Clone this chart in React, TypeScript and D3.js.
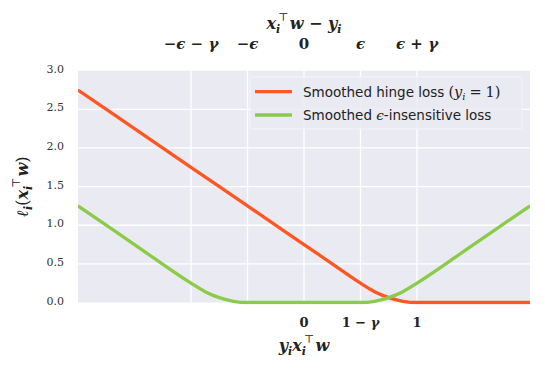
import React from "react";
import * as d3 from "d3";

// values (x in units of y_i x_i^T w, gamma = eps = 0.5)
const hingeX = [-2, -1.5, -1, -0.5, 0, 0.25, 0.5, 0.625, 0.75, 0.875, 1, 1.5, 2];
const hingeY = [2.75, 2.25, 1.75, 1.25, 0.75, 0.5, 0.25, 0.14, 0.0625, 0.016, 0, 0, 0];

const epsX = [-2, -1.5, -1, -0.875, -0.75, -0.625, -0.5, 0, 0.5, 0.625, 0.75, 0.875, 1, 1.5, 2];
const epsY = [1.25, 0.75, 0.25, 0.14, 0.0625, 0.016, 0, 0, 0, 0.016, 0.0625, 0.14, 0.25, 0.75, 1.25];

const yTicks = [0, 0.5, 1, 1.5, 2, 2.5, 3];
const topTickPos = [-1, -0.5, 0, 0.5, 1];
// each label split into [text, italic?] pieces
const topTickLabels: [string, boolean][][] = [
  [["−", false], ["ϵ", true], [" − ", false], ["γ", true]],
  [["−", false], ["ϵ", true]],
  [["0", false]],
  [["ϵ", true]],
  [["ϵ", true], [" + ", false], ["γ", true]],
];
const bottomTickPos = [0, 0.5, 1];
const bottomTickLabels: [string, boolean][][] = [
  [["0", false]],
  [["1 − ", false], ["γ", true]],
  [["1", false]],
];

const ORANGE = "#FF5722";
const GREEN = "#8BCB4A";
const BG = "#EAEAF2";
const SERIF = "'DejaVu Serif', serif";
const SANS = "'DejaVu Sans', sans-serif";

const W = 545;
const H = 374;
const left = 78;
const right = 530;
const top = 70.7;
const bottom = 302.5;

const Pieces = ({ parts }: { parts: [string, boolean][] }) => (
  <>
    {parts.map(([s, it], i) => (
      <tspan key={i} fontStyle={it ? "italic" : "normal"} style={{ whiteSpace: "pre" }}>
        {s}
      </tspan>
    ))}
  </>
);

export default function App() {
  const x = d3.scaleLinear().domain([-2, 2]).range([left, right]);
  const y = d3.scaleLinear().domain([0, 3]).range([bottom, top]);

  const line = d3
    .line<[number, number]>()
    .x((d) => x(d[0]))
    .y((d) => y(d[1]))
    .curve(d3.curveMonotoneX);

  const hinge = hingeX.map((v, i) => [v, hingeY[i]] as [number, number]);
  const eps = epsX.map((v, i) => [v, epsY[i]] as [number, number]);

  const math = { fontFamily: SERIF, fontStyle: "italic", fontWeight: "bold" } as const;
  const up = { fontStyle: "normal", fontWeight: "normal" } as const;

  return (
    <svg
      width={W}
      height={H}
      style={{ position: "absolute", left: 0, top: 0, background: "white" }}
    >
      <defs>
        <clipPath id="plot">
          <rect x={left} y={top - 2} width={right - left} height={bottom - top + 4} />
        </clipPath>
      </defs>
      <rect x={left} y={top} width={right - left} height={bottom - top} fill={BG} />

      {yTicks.slice(1, -1).map((t) => (
        <line key={"gy" + t} x1={left} x2={right} y1={y(t)} y2={y(t)} stroke="white" strokeWidth={1.3} />
      ))}
      {topTickPos.map((t) => (
        <line key={"gx" + t} x1={x(t)} x2={x(t)} y1={top} y2={bottom} stroke="white" strokeWidth={1.3} />
      ))}

      <g clipPath="url(#plot)">
        <path d={line(hinge) ?? ""} fill="none" stroke={ORANGE} strokeWidth={3.3} />
        <path d={line(eps) ?? ""} fill="none" stroke={GREEN} strokeWidth={3.3} />
      </g>

      {/* y axis */}
      {yTicks.map((t) => (
        <text key={"yl" + t} x={64} y={y(t) - 1} textAnchor="end" dominantBaseline="middle"
          fontFamily={SERIF} fontSize={11} fill="#333">
          {d3.format(".1f")(t)}
        </text>
      ))}
      <text transform={`translate(28,${(top + bottom) / 2}) rotate(-90)`} textAnchor="middle"
        {...math} fontSize={16} fill="#222">
        ℓ<tspan fontSize={11} dy={4}>i</tspan>
        <tspan dy={-4} {...up}>(</tspan>
        <tspan>x</tspan>
        <tspan fontSize={11} dy={4}>i</tspan>
        <tspan {...up} fontSize={11} dx={-2} dy={-12}>⊤</tspan>
        <tspan dy={8} dx={1}>w</tspan>
        <tspan {...up}>)</tspan>
      </text>

      {/* top axis */}
      {topTickPos.map((t, i) => (
        <text key={"tl" + t} x={x(t)} y={49} textAnchor="middle" {...math} fontSize={15} fill="#222">
          <Pieces parts={topTickLabels[i]} />
        </text>
      ))}
      <text x={x(0)} y={29} textAnchor="middle" {...math} fontSize={16} fill="#222">
        x<tspan fontSize={11} dy={4}>i</tspan>
        <tspan {...up} fontSize={11} dx={-2} dy={-12}>⊤</tspan>
        <tspan dy={8} dx={1}>w</tspan>
        <tspan fontStyle="normal" style={{ whiteSpace: "pre" }}> − </tspan>
        <tspan>y</tspan>
        <tspan fontSize={11} dy={4}>i</tspan>
      </text>

      {/* bottom axis */}
      {bottomTickPos.map((t, i) => (
        <text key={"bl" + t} x={x(t)} y={327} textAnchor="middle" {...math} fontSize={13} fill="#222">
          <Pieces parts={bottomTickLabels[i]} />
        </text>
      ))}
      <text x={x(0)} y={351} textAnchor="middle" {...math} fontSize={16} fill="#222">
        y<tspan fontSize={11} dy={4}>i</tspan>
        <tspan dy={-4}>x</tspan>
        <tspan fontSize={11} dy={4}>i</tspan>
        <tspan {...up} fontSize={11} dx={-2} dy={-12}>⊤</tspan>
        <tspan dy={8} dx={1}>w</tspan>
      </text>

      {/* legend */}
      <g>
        <rect x={250} y={77} width={272} height={52} rx={2} fill={BG} fillOpacity={0.8}
          stroke="#f4f4f8" strokeWidth={1} />
        <line x1={255} x2={292} y1={91.7} y2={91.7} stroke={ORANGE} strokeWidth={3.3} />
        <line x1={255} x2={292} y1={115} y2={115} stroke={GREEN} strokeWidth={3.3} />
        <text x={303} y={96.5} fontFamily={SANS} fontSize={13.5} fill="#222">
          Smoothed hinge loss
          <tspan fontFamily={SERIF} fontSize={14.5} dx={4}>(</tspan>
          <tspan fontFamily={SERIF} fontSize={14.5} fontStyle="italic">y</tspan>
          <tspan fontFamily={SERIF} fontStyle="italic" fontSize={10} dy={3}>i</tspan>
          <tspan fontFamily={SERIF} fontSize={14.5} dy={-3} dx={4}>=</tspan>
          <tspan fontFamily={SERIF} fontSize={14.5} dx={4}>1)</tspan>
        </text>
        <text x={303} y={120} fontFamily={SANS} fontSize={13.5} fill="#222">
          Smoothed <tspan fontFamily={SERIF} fontStyle="italic">ϵ</tspan>-insensitive loss
        </text>
      </g>
    </svg>
  );
}
